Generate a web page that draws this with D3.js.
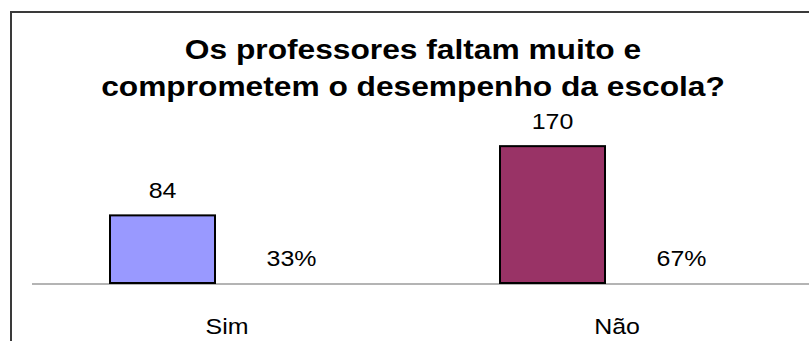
<!DOCTYPE html>
<html>
<head>
<meta charset="utf-8">
<script src="https://cdn.jsdelivr.net/npm/d3@7"></script>
<style>
  html, body { margin: 0; padding: 0; background: #fff; }
  svg { display: block; }
  text { font-family: "Liberation Sans", Arial, sans-serif; fill: #000; }
</style>
</head>
<body>
<svg id="chart" width="809" height="341"></svg>
<script>
// Survey answers: "Do teachers miss class a lot and hurt the school's performance?"
const titleLines = ["Os professores faltam muito e", "comprometem o desempenho da escola?"];
const categories = ["Sim", "Não"];
const counts = [84, 170];
const percents = [33, 67];
const barColors = ["#9999ff", "#993366"];

const W = 809, H = 341;
const svg = d3.select("#chart");

// Frame around the chart area
svg.append("rect")
  .attr("x", 11).attr("y", 12)
  .attr("width", W + 20).attr("height", H + 20)
  .attr("fill", "#fff")
  .attr("stroke", "#3a3a3a")
  .attr("stroke-width", 2);

const baseY = 283;
const x = d3.scaleBand().domain(categories).range([32, 812]);
const series = d3.scaleBand().domain(["count", "pct"]).range([78, 288]);
const y = d3.scaleLinear().domain([0, 200]).range([baseY, 122]);

// Stretched text helper (wide rendering of the labels)
function label(g, tx, ty, str, size, weight, sx) {
  return g.append("text")
    .attr("transform", `translate(${tx},${ty}) scale(${sx},1)`)
    .attr("text-anchor", "middle")
    .attr("font-size", size)
    .attr("font-weight", weight)
    .text(str);
}

// Title
const tg = svg.append("g");
titleLines.forEach((t, i) => label(tg, 413, 59 + i * 37, t, 27, "bold", 1.175));

// Category axis line
svg.append("line")
  .attr("x1", x.range()[0]).attr("x2", W)
  .attr("y1", baseY + 1).attr("y2", baseY + 1)
  .attr("stroke", "#b4b4b4")
  .attr("stroke-width", 2);

// Count bars
const bars = svg.append("g");
categories.forEach((c, i) => {
  const x0 = x(c) + series("count");
  bars.append("rect")
    .attr("x", x0)
    .attr("y", y(counts[i]))
    .attr("width", series.bandwidth())
    .attr("height", y(0) - y(counts[i]))
    .attr("fill", barColors[i])
    .attr("stroke", "#000")
    .attr("stroke-width", 2);
  label(bars, x0 + series.bandwidth() / 2, y(counts[i]) - 17, String(counts[i]), 21.5, "normal", 1.16);
  // Percentage share beside each bar
  const xp = x(c) + series("pct") + series.bandwidth() / 2 + 24;
  label(bars, xp, y(0) - 17, percents[i] + "%", 21.5, "normal", 1.16);
  // Category name under the axis
  label(bars, x(c) + x.bandwidth() / 2, 334, c, 21.5, "normal", 1.16);
});
</script>
</body>
</html>
